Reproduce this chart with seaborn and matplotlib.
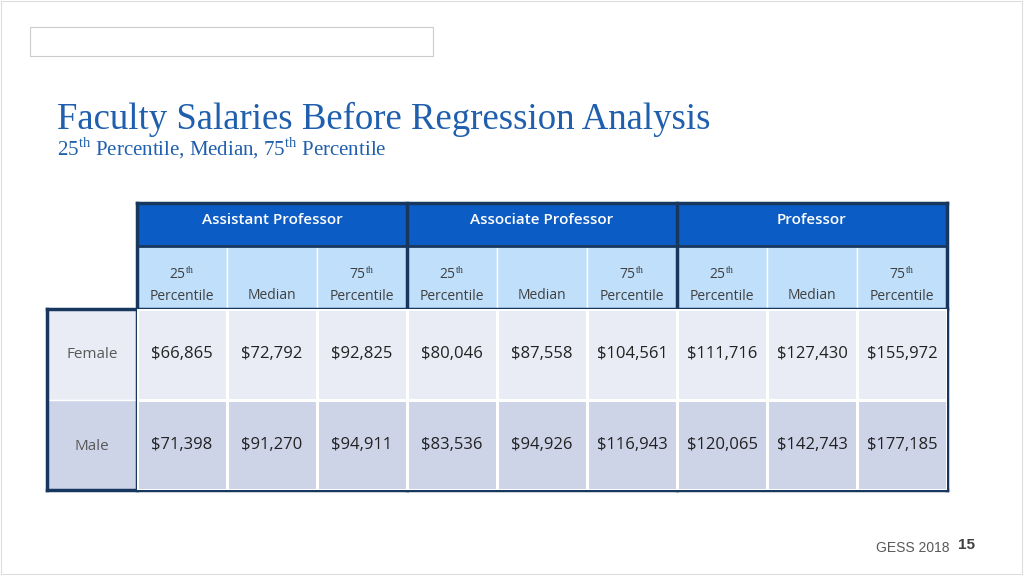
import numpy as np
import matplotlib
matplotlib.use("Agg")
import matplotlib.pyplot as plt
import seaborn as sns
from matplotlib.colors import ListedColormap
from matplotlib.patches import Rectangle

ranks = ["Assistant Professor", "Associate Professor", "Professor"]
stats = ["25$^{\\mathrm{th}}$\nPercentile", "\nMedian", "75$^{\\mathrm{th}}$\nPercentile"]
genders = ["Female", "Male"]
female = [66865, 72792, 92825, 80046, 87558, 104561, 111716, 127430, 155972]
male = [71398, 91270, 94911, 83536, 94926, 116943, 120065, 142743, 177185]

plt.rcParams["mathtext.fontset"] = "custom"
plt.rcParams["mathtext.rm"] = "Liberation Serif"

W, H = 1024, 576
fig = plt.figure(figsize=(W / 100, H / 100), dpi=100)
bg = fig.add_axes([0, 0, 1, 1])
bg.set_xlim(0, W)
bg.set_ylim(H, 0)
bg.axis("off")

blue_title = "#1F5FAD"
border = "#17375E"

# top outline box and slide frame
bg.add_patch(Rectangle((30, 27), 403, 29, fill=False, ec="#cccccc", lw=0.8))
bg.add_patch(Rectangle((1, 1), W - 3, H - 3, fill=False, ec="#dddddd", lw=0.8))

bg.text(57, 119, "Faculty Salaries Before Regression Analysis", family="Liberation Serif",
        fontsize=26.5, color=blue_title, va="center")
bg.text(57, 148, "25$^{\\mathrm{th}}$ Percentile, Median, 75$^{\\mathrm{th}}$ Percentile",
        family="Liberation Serif", fontsize=15, color=blue_title, va="center")

x0, cw = 137, 90
# header rows
for i, r in enumerate(ranks):
    xs = x0 + i * 3 * cw
    bg.add_patch(Rectangle((xs, 203), 3 * cw, 43, fc="#0B5CC4", ec=border, lw=2))
    bg.text(xs + 1.5 * cw, 220, r, ha="center", va="center", color="white",
            fontsize=11, fontweight="semibold", family="Open Sans")
for j in range(9):
    xs = x0 + j * cw
    bg.add_patch(Rectangle((xs, 246), cw, 63, fc="#BFDFFB", ec="white", lw=1))
    bg.text(xs + cw / 2, 285, stats[j % 3], ha="center", va="center", color="#404040",
            fontsize=10, family="Open Sans", linespacing=1.5)

# data cells via heatmap
ax = fig.add_axes([x0 / W, 1 - 490 / H, 9 * cw / W, 181 / H])
codes = np.array([[0] * 9, [1] * 9])
labels = np.array([[f"${v:,}" for v in female], [f"${v:,}" for v in male]])
sns.heatmap(codes, ax=ax, cmap=ListedColormap(["#E9ECF4", "#CDD4E8"]), cbar=False,
            annot=labels, fmt="", linewidths=1, linecolor="white",
            annot_kws={"fontsize": 12, "color": "#222222", "family": "Open Sans"})
ax.set_xticks([])
ax.set_yticks([])

for k, g in enumerate(genders):
    ys = 309 + k * 91
    bg.add_patch(Rectangle((47, ys), 90, 91, fc=["#E9ECF4", "#CDD4E8"][k], ec="white", lw=1))
    bg.text(92, ys + 46, g, ha="center", va="center", color="#595959", fontsize=11, family="Open Sans")

# dark borders
bg.plot([47, 947], [309, 309], color=border, lw=2.5)
bg.plot([47, 947], [490, 490], color=border, lw=2.5)
bg.plot([47, 47], [309, 490], color=border, lw=2.5)
for xv in [137, 407, 677, 947]:
    bg.plot([xv, xv], [203, 490], color=border, lw=2.5)
bg.plot([137, 947], [203, 203], color=border, lw=2.5)
bg.plot([137, 947], [246, 246], color=border, lw=2)

bg.text(950, 548, "GESS 2018", ha="right", va="center", color="#595959", fontsize=10, family="Liberation Sans")
bg.text(958, 545, "15", ha="left", va="center", color="#404040", fontsize=11, fontweight="bold", family="Liberation Sans")

fig.savefig("out.png", dpi=100)
